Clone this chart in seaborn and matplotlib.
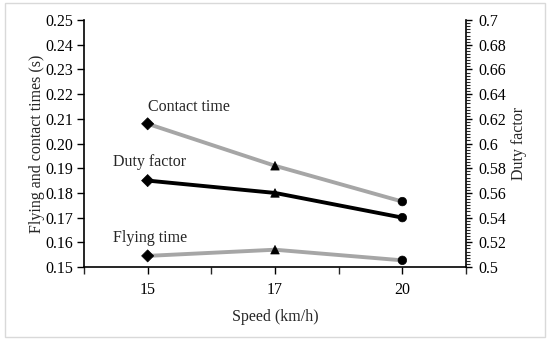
import pandas as pd
import seaborn as sns
import matplotlib.pyplot as plt
from matplotlib.ticker import MultipleLocator
from matplotlib.patches import Rectangle

speeds = ["15", "17", "20"]
contact_time = [0.208, 0.191, 0.1765]
flying_time = [0.1545, 0.157, 0.1527]
duty_factor = [0.570, 0.560, 0.540]
point_markers = {"15": "D", "17": "^", "20": "o"}

sns.set_theme(style="white")
plt.rcParams['font.family'] = ['Liberation Serif', 'DejaVu Serif']

df = pd.DataFrame({"speed": speeds, "contact": contact_time,
                   "flying": flying_time, "duty": duty_factor})

fig = plt.figure(figsize=(5.5, 3.41), dpi=100)
ax = fig.add_axes([0.1527, 0.217, 0.6946, 0.724])
ax2 = ax.twinx()

grey = "#a6a6a6"
# times on the left axis
for col in ["contact", "flying"]:
    sns.lineplot(data=df, x="speed", y=col, color=grey, lw=2.8, ax=ax, zorder=2)
    sns.scatterplot(data=df, x="speed", y=col, style="speed", markers=point_markers,
                    color="black", s=38, edgecolor="black", legend=False, ax=ax, zorder=3)
# duty factor on the right axis
sns.lineplot(data=df, x="speed", y="duty", color="black", lw=2.8, ax=ax2, zorder=2)
sns.scatterplot(data=df, x="speed", y="duty", style="speed", markers=point_markers,
                color="black", s=38, edgecolor="black", legend=False, ax=ax2, zorder=3)

ax.set_xlim(-0.5, 2.5)
ax.set_ylim(0.15, 0.25)
ax2.set_ylim(0.5, 0.7)
ax.set_yticks([0.15 + 0.01 * i for i in range(11)])
ax.set_yticklabels([f"{0.15 + 0.01 * i:.2f}" for i in range(11)])
ax2.set_yticks([0.5 + 0.02 * i for i in range(11)])
ax2.set_yticklabels([f"{0.5 + 0.02 * i:g}" for i in range(11)])
ax2.yaxis.set_minor_locator(MultipleLocator(0.0025))
ax.xaxis.set_minor_locator(MultipleLocator(0.5))

for a in (ax, ax2):
    for s in a.spines.values():
        s.set_visible(False)
    a.tick_params(labelsize=11.5, colors="black")
ax.spines["left"].set_visible(True)
ax.spines["bottom"].set_visible(True)
ax2.spines["right"].set_visible(True)
for s in (ax.spines["left"], ax.spines["bottom"], ax2.spines["right"]):
    s.set_color("black")
    s.set_linewidth(1.2)

ax.tick_params(axis="y", which="major", direction="out", length=5, width=1, left=True, pad=3)
ax.tick_params(axis="x", which="both", direction="out", length=5, width=1, bottom=True, pad=6)
ax2.tick_params(axis="y", which="major", direction="out", length=4, width=1, right=True, pad=5)
ax2.tick_params(axis="y", which="minor", direction="out", length=3, width=0.8, right=True)

ax.set_xlabel("Speed (km/h)", fontsize=11.5, labelpad=8)
ax.set_ylabel("Flying and contact times (s)", fontsize=11.5, labelpad=0)
ax2.set_ylabel("Duty factor", fontsize=11.5, labelpad=3)

ax.text(0.0, 0.2148, "Contact time", fontsize=11.5, va="center", ha="left")
ax.text(-0.27, 0.1925, "Duty factor", fontsize=11.5, va="center", ha="left")
ax.text(-0.27, 0.1617, "Flying time", fontsize=11.5, va="center", ha="left")

fig.patches.append(Rectangle((0.009, 0.012), 0.982, 0.978, transform=fig.transFigure,
                             fill=False, edgecolor="#d9d9d9", lw=1))

fig.savefig("out.png", dpi=100)
